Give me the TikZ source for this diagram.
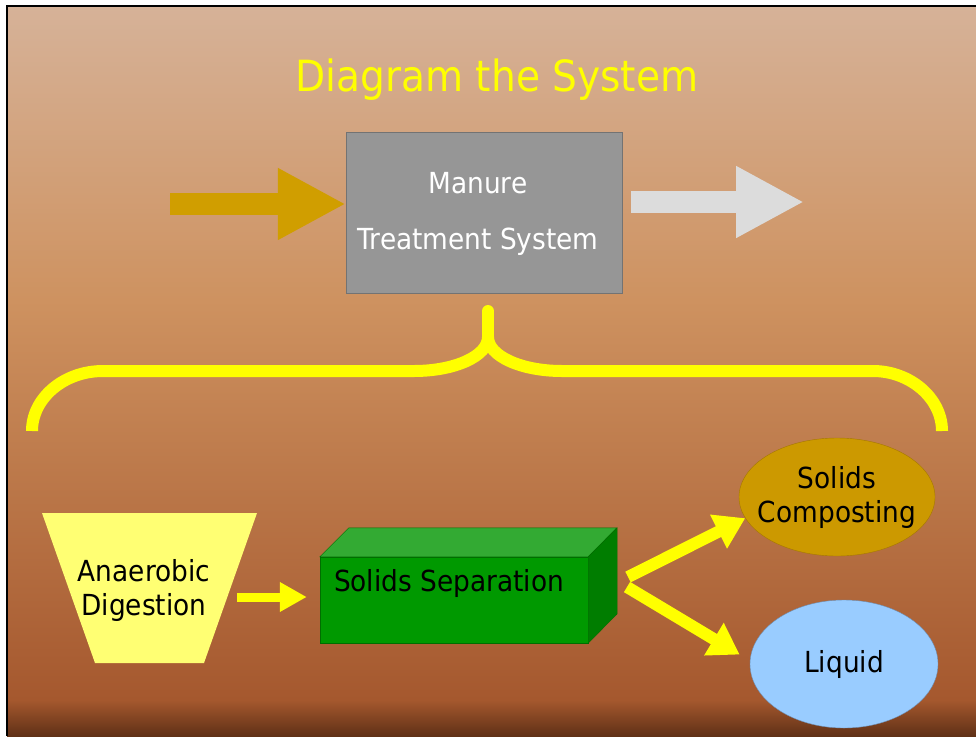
\documentclass[tikz,border=0pt]{standalone}
\usepackage{fontspec}
\setmainfont[FakeStretch=0.91]{DejaVu Sans}
\usepackage{xcolor}
\usetikzlibrary{arrows.meta,shapes.geometric}

\definecolor{bgtop}{RGB}{214,178,152}
\definecolor{bgmid}{RGB}{206,146,96}
\definecolor{bglow}{RGB}{165,88,46}
\definecolor{bgend}{RGB}{95,48,22}
\definecolor{brace}{RGB}{255,255,0}
\definecolor{manuregold}{RGB}{208,158,0}
\definecolor{outgray}{RGB}{220,220,220}
\definecolor{boxgray}{RGB}{150,150,150}
\definecolor{digestyellow}{RGB}{255,255,115}
\definecolor{sepfront}{RGB}{0,153,0}
\definecolor{septop}{RGB}{51,170,51}
\definecolor{sepside}{RGB}{0,125,0}
\definecolor{compostgold}{RGB}{204,153,0}
\definecolor{liquidblue}{RGB}{153,204,255}

\tikzset{
  label28/.style={font=\fontsize{29}{34}\selectfont, align=center},
  bigarrow/.style={line width=22pt, -{Triangle[length=68pt,width=67pt]}},
  yarrow/.style={draw=brace, line width=12pt, -{Triangle[length=30pt,width=36pt]}}
}

\begin{document}
\begin{tikzpicture}[x=1pt,y=1pt,yscale=-1,xscale=1]
\useasboundingbox (0,0) rectangle (976,736);

%Shape: Background
\shade[top color=bgtop, bottom color=bgmid] (7,6) rectangle (976,300);
\shade[top color=bgmid, bottom color=bglow] (7,300) rectangle (976,700);
\shade[top color=bglow, bottom color=bgend] (7,700) rectangle (976,736.5);
\draw[line width=2pt] (7,736) -- (7,6) -- (976,6);

% Text Node
\node[font=\fontsize{43}{50}\selectfont, text=brace] (title) at (497,80) {Diagram the System};

%Shape: Rectangle
\node[fill=boxgray, draw={rgb,255:red,115;green,115;blue,115},
  minimum width=276, minimum height=161] (mts) at (484,212.5) {};
% Text Node
\node[label28, text=white] (mtstext) at (478,214) {Manure\\[22pt]Treatment System};

%Right Arrow
\coordinate (inflow) at (170,204);
\draw[bigarrow, manuregold] (inflow) -- (inflow -| mts.west);
%Right Arrow
\coordinate (outflow) at (804,202);
\draw[bigarrow, outgray, shorten <=9pt] (mts.east |- outflow) -- (outflow);

%Shape: Brace
\draw[brace, line width=12pt] (32,431) .. controls (32,398) and (64,371) .. (103,371) -- (414,371)
  .. controls (455,371) and (488,356) .. (488,337);
\draw[brace, line width=12pt] (942,431) .. controls (942,398) and (910,371) .. (873,371) -- (562,371)
  .. controls (521,371) and (488,356) .. (488,337);
\draw[brace, line width=12pt, line cap=round] (488,340) -- (488,311);

%Shape: Trapezoid
\fill[digestyellow] (42,513) -- (257,513) -- (204,663) -- (95,663) -- cycle;
% Text Node
\node[label28] (digest) at (144,590) {Anaerobic\\Digestion};

%Shape: Box
\node[fill=sepfront, draw={rgb,255:red,0;green,110;blue,0}, minimum width=268, minimum height=86]
  (sep) at (454,600) {};
\filldraw[fill=septop, draw={rgb,255:red,0;green,110;blue,0}] (sep.north west) -- ++(29,-29) -- ++(268,0)
  -- (sep.north east) -- cycle;
\filldraw[fill=sepside, draw={rgb,255:red,0;green,110;blue,0}] (sep.north east) -- ++(29,-29) -- ++(0,86)
  -- (sep.south east) -- cycle;
% Text Node
\node[label28] (septext) at (449,583) {Solids Separation};

%Right Arrow
\coordinate (digestout) at (237,597);
\draw[brace, line width=9pt, -{Triangle[length=27pt,width=28pt]}, shorten >=13pt]
  (digestout) -- (digestout -| sep.west);

%Shape: Ellipse
\node[label28, ellipse, fill=compostgold, draw={rgb,255:red,165;green,120;blue,0},
  minimum width=196, minimum height=118, inner xsep=-14pt, inner ysep=0pt] (compost) at (837,497) {Solids\\Composting};
%Shape: Ellipse
\node[label28, ellipse, fill=liquidblue, draw={rgb,255:red,110;green,140;blue,175},
  minimum width=188, minimum height=128, inner sep=0pt] (liquid) at (844,664) {Liquid};

%Arrows
\coordinate (fork1) at (628,577);
\coordinate (fork2) at (627,587);
\draw[yarrow] (fork1) -- (compost.193);
\draw[yarrow, shorten >=12pt] (fork2) -- (liquid.178);

\end{tikzpicture}
\end{document}
